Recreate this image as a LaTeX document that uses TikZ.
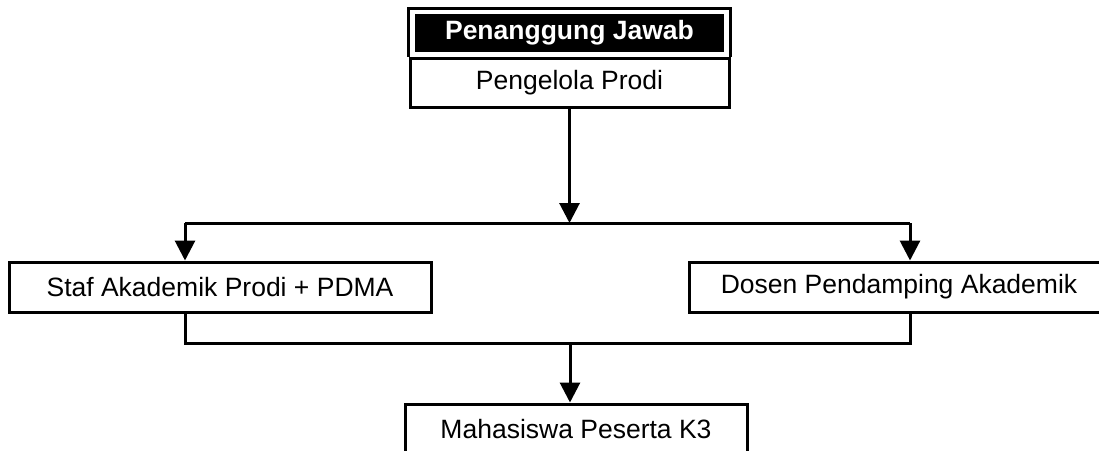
\documentclass[tikz,border=0pt]{standalone}
\usepackage{fontspec}
\setmainfont{Liberation Sans}
\usetikzlibrary{arrows.meta}

\begin{document}
\begin{tikzpicture}[
    x=1pt, y=-1pt,
    box/.style={rectangle, draw=black, line width=3pt, fill=white,
        minimum height=50pt, inner sep=0pt,
        font=\fontsize{26.5}{30}\selectfont},
    head/.style={rectangle, fill=black, text=white, inner sep=0pt,
        minimum width=309pt, minimum height=38pt,
        font=\fontsize{26.5}{30}\selectfont\bfseries},
    line/.style={line width=3pt, -},
    arr/.style={line width=3pt, -{Triangle[width=20pt,length=20pt]}}
]
    \useasboundingbox (0,0) rectangle (1099,450);
    \clip (0,0) rectangle (1099,450);
    \node[head] (pj) at (569.5,33) {Penanggung Jawab};
    \node[box, minimum width=319pt, minimum height=49pt] (mgr) at (569.5,82.5) {Pengelola Prodi};
    \node[box, minimum width=422pt] (staf) at (220,287) {Staf Akademik Prodi + PDMA};
    % box runs past the right edge, text kept at x=899
    \node[box, minimum width=460pt] (dosen) at (919,287) {\hspace*{-20pt}Dosen Pendamping Akademik\hspace*{20pt}};
    \node[box, minimum width=342pt] (mhs) at (576,429) {Mahasiswa Peserta K3};
    \coordinate (split) at (569.5,223);
    \coordinate (lt) at (185,223);
    \coordinate (rt) at (910,223);
    \coordinate (lb) at (185,343);
    \coordinate (rb) at (910,343);
    \coordinate (join) at (570,343);
    \draw[line] (mgr.north west) |- ([yshift=5pt]pj.north) -| (mgr.north east);
    \draw[arr] (mgr.south) -- (split);
    \draw[line] (lt) -- (rt);
    \draw[arr] (lt) -- (lt |- staf.north);
    \draw[arr] (rt) -- (rt |- dosen.north);
    \draw[line] (lb |- staf.south) -- (lb) -- (rb) -- (rb |- dosen.south);
    \draw[arr] (join) -- (join |- mhs.north);
\end{tikzpicture}
\end{document}
